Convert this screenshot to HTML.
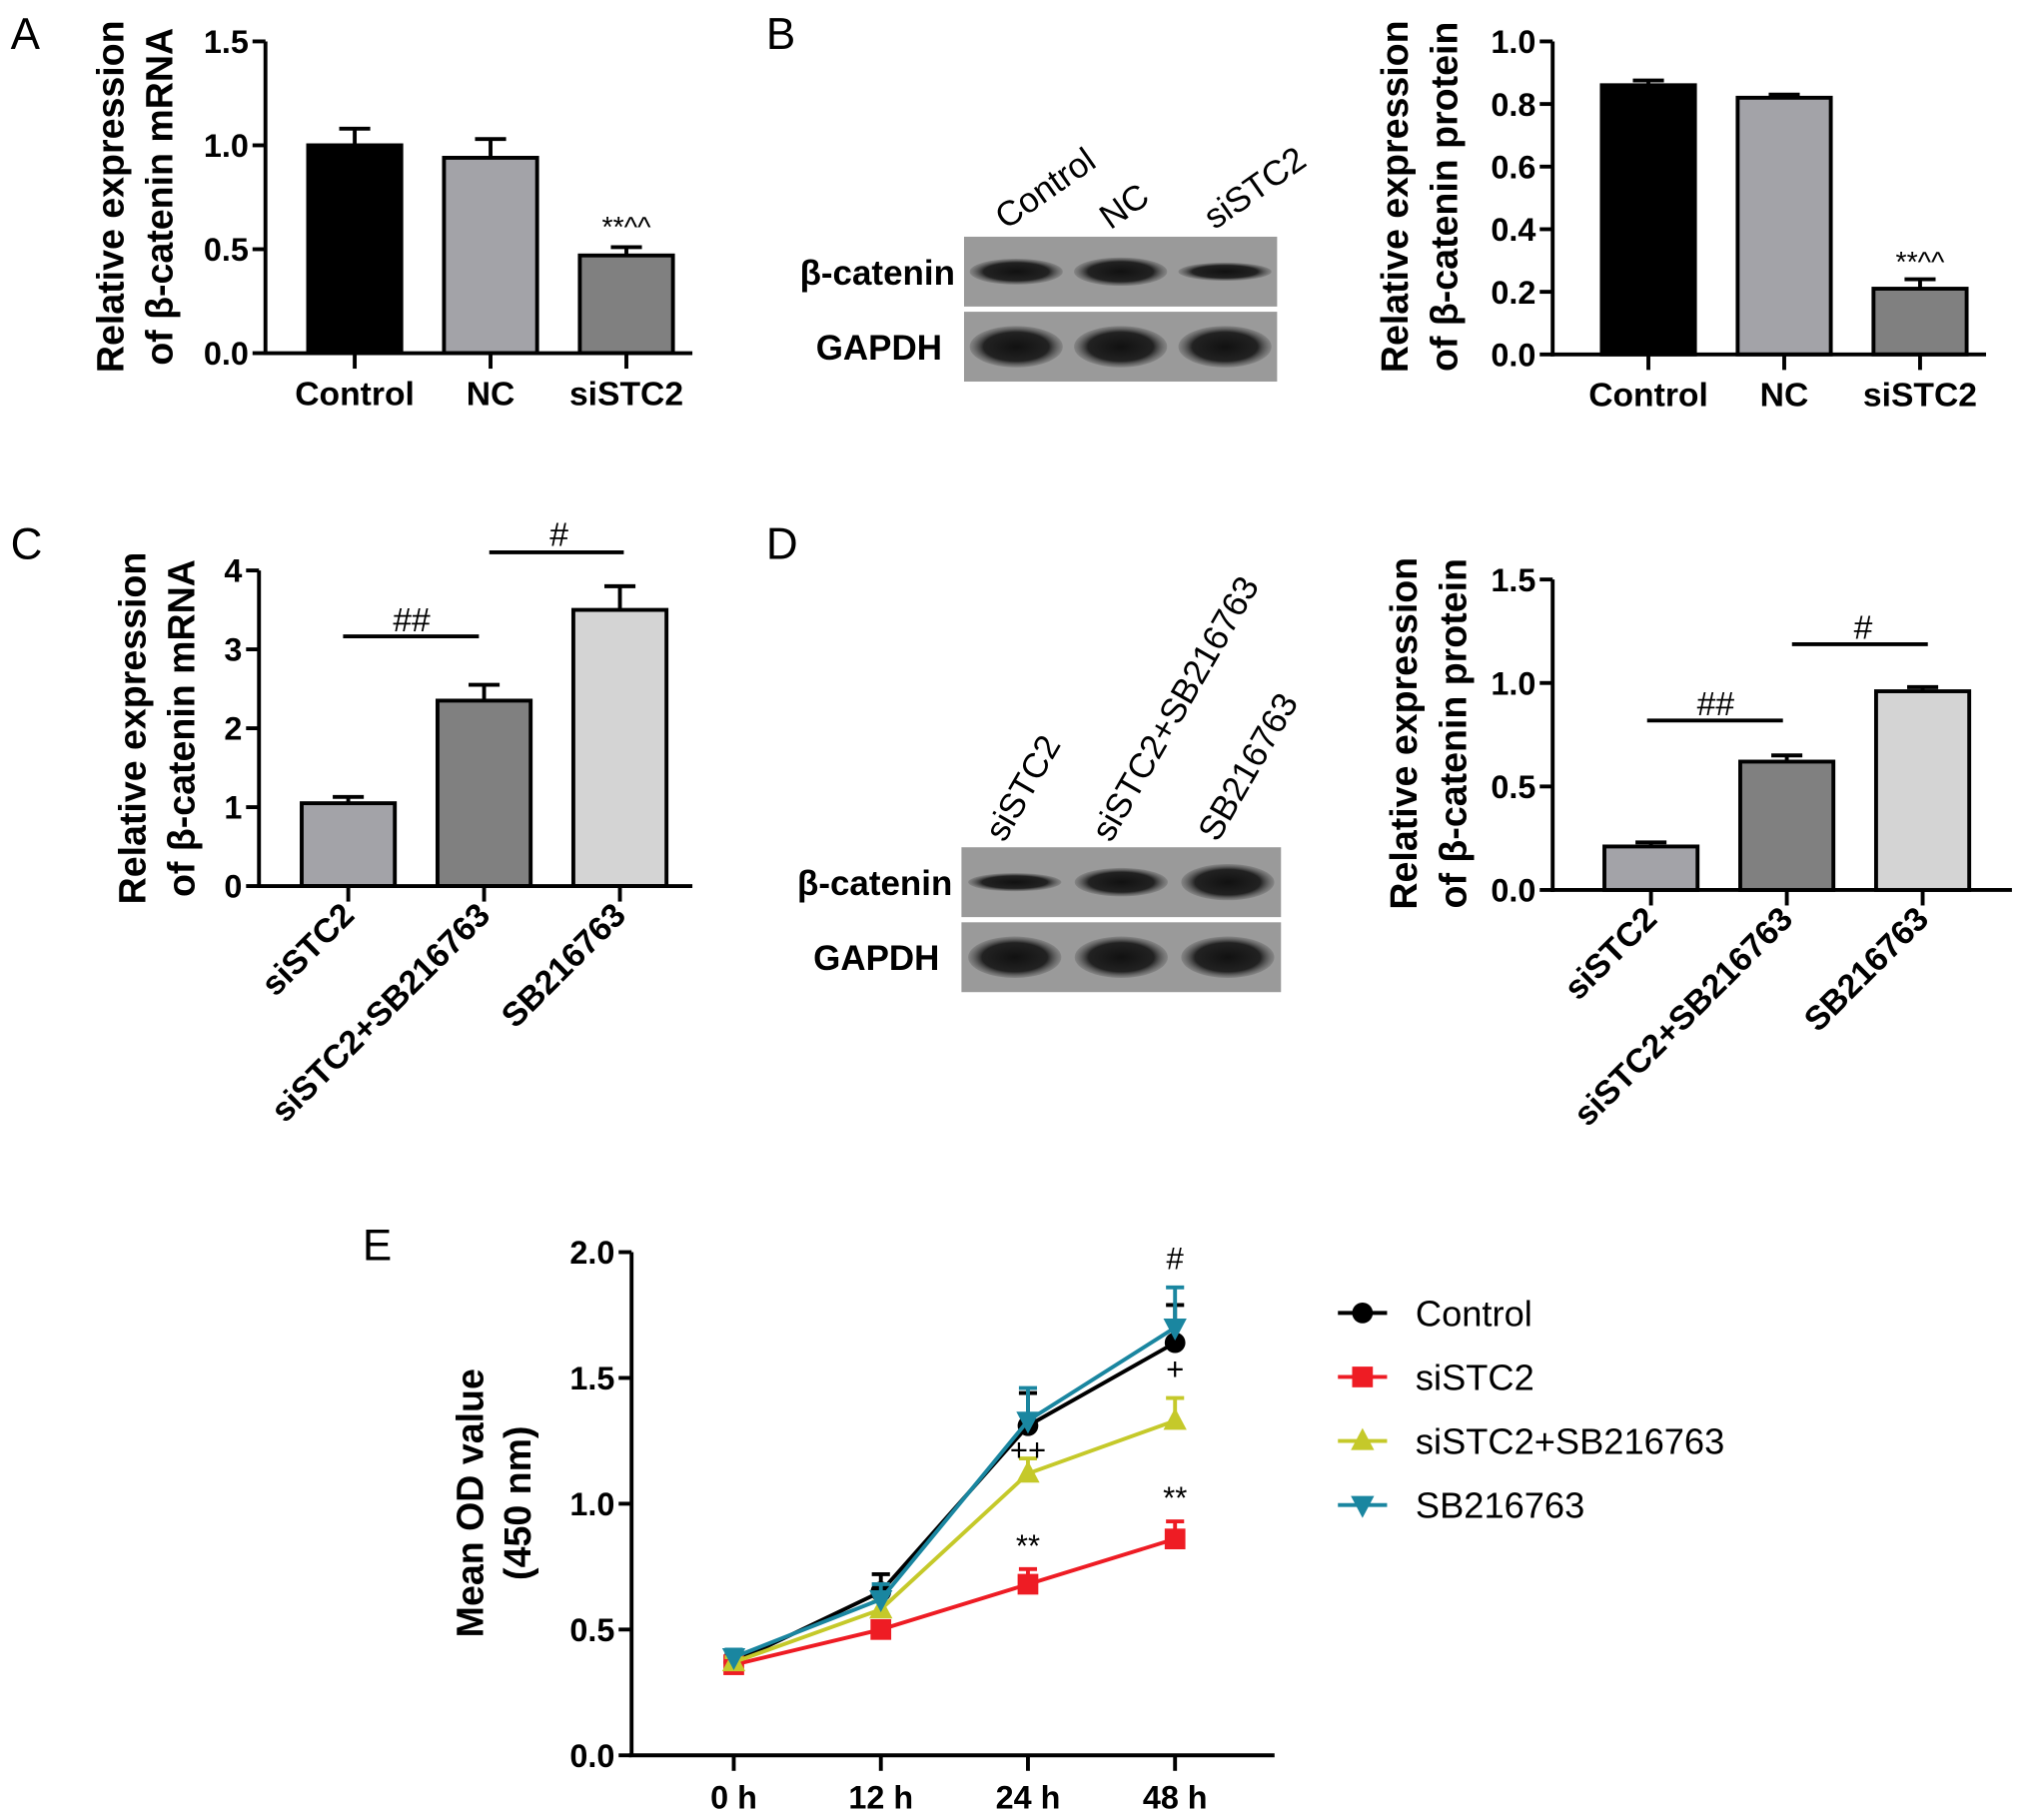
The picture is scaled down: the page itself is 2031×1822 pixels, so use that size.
<!DOCTYPE html>
<html><head><meta charset="utf-8"><style>
html,body{margin:0;padding:0;background:#fff}
svg{display:block;font-family:"Liberation Sans",Arial,sans-serif}
</style></head><body>
<svg id="fig" width="2031" height="1822" viewBox="0 0 1568 1407" xmlns="http://www.w3.org/2000/svg">
<defs>
<radialGradient id="band" cx="50%" cy="50%" r="50%"><stop offset="0" stop-color="#111"/><stop offset="0.7" stop-color="#222"/><stop offset="1" stop-color="#555" stop-opacity="0.3"/></radialGradient>
</defs>
<g font-size="34" fill="#000">
<text x="8" y="38">A</text>
<text x="592" y="38">B</text>
<text x="8" y="432">C</text>
<text x="592" y="432">D</text>
<text x="280" y="974">E</text>
</g>
<g id="root"></g>
</svg>
<script>
// ---- data ----
const catA = ["Control","NC","siSTC2"];
const valA = [1.0, 0.94, 0.47];
const errA = [0.08, 0.09, 0.04];
const catB = ["Control","NC","siSTC2"];
const valB = [0.86, 0.82, 0.21];
const errB = [0.015, 0.01, 0.03];
const catC = ["siSTC2","siSTC2+SB216763","SB216763"];
const valC = [1.05, 2.35, 3.5];
const errC = [0.08, 0.2, 0.3];
const catD = ["siSTC2","siSTC2+SB216763","SB216763"];
const valD = [0.21, 0.62, 0.96];
const errD = [0.02, 0.03, 0.02];
const timeE = ["0 h","12 h","24 h","48 h"];
const ctrlE = [0.37, 0.65, 1.31, 1.64];
const ctrlErr = [0.03, 0.07, 0.13, 0.15];
const siE = [0.36, 0.50, 0.68, 0.86];
const siErr = [0.02, 0.02, 0.06, 0.07];
const comboE = [0.37, 0.58, 1.12, 1.33];
const comboErr = [0.02, 0.03, 0.06, 0.09];
const sbE = [0.39, 0.62, 1.33, 1.70];
const sbErr = [0.03, 0.06, 0.13, 0.16];

const NS="http://www.w3.org/2000/svg";
const root=document.getElementById('root');
function el(tag,attrs,parent,text){const e=document.createElementNS(NS,tag);for(const k in attrs)e.setAttribute(k,attrs[k]);if(text!==undefined)e.textContent=text;(parent||root).appendChild(e);return e;}

function barChart(o){
  const g=el('g',{});
  
  
  const y=v=>o.y0-(v/o.ymax)*(o.y0-o.ytop);
  o.vals.forEach((v,i)=>{
    const cx=o.x0+o.first+i*o.step;
    const eb=el('line',{x1:cx,x2:cx,y1:y(v),y2:y(v+o.errs[i]),stroke:'#000','stroke-width':3},g);
    
    
    const cap=el('line',{x1:cx-12,x2:cx+12,y1:y(v+o.errs[i]),y2:y(v+o.errs[i]),stroke:'#000','stroke-width':3},g);
    
    
    const r=el('rect',{x:cx-36,y:y(v),width:72,height:o.y0-y(v),fill:o.colors[i],stroke:'#000','stroke-width':3},g);
    
    
    const t=el('line',{x1:cx,x2:cx,y1:o.y0,y2:o.y0+12,stroke:'#000','stroke-width':3},g);
    
    
    let lab;
    if(o.rot){
      lab=el('text',{x:cx+6,y:o.y0+24,'font-size':26,'font-weight':'bold','text-anchor':'end',transform:`rotate(-45 ${cx+6} ${o.y0+24})`},g,o.cats[i]);
    } else {
      lab=el('text',{x:cx,y:o.y0+40,'font-size':26,'font-weight':'bold','text-anchor':'middle'},g,o.cats[i]);
    }
    
    
  });
  const ax=el('line',{x1:o.x0,x2:o.x0,y1:o.ytop,y2:o.y0+1.5,stroke:'#000','stroke-width':3},g);
  
  
  const xa=el('line',{x1:o.x0-1.5,x2:o.x0+o.xlen,y1:o.y0,y2:o.y0,stroke:'#000','stroke-width':3},g);
  
  
  o.ticks.forEach(tv=>{
    const tk=el('line',{x1:o.x0-10,x2:o.x0,y1:y(tv),y2:y(tv),stroke:'#000','stroke-width':3},g);
    
    
    const tl=el('text',{x:o.x0-13,y:y(tv)+9,'font-size':25,'font-weight':'bold','text-anchor':'end'},g,tv.toFixed(o.dec));
    
    
  });
  const tt=el('text',{'font-size':29,'font-weight':'bold','text-anchor':'middle',transform:`translate(${o.x0-o.tOff} ${o.tY}) rotate(-90)`},g);
  
  
  el('tspan',{x:0,y:0},tt,o.title[0]);
  el('tspan',{x:0,y:38},tt,o.title[1]);
  return {g,y};
}

const A=barChart({name:'chart-a',cats:catA,vals:valA,errs:errA,colors:['#000','#a3a3a8','#808080'],x0:205,y0:273,ytop:32,ymax:1.5,ticks:[0,0.5,1.0,1.5],dec:1,first:69,step:105,xlen:330,title:['Relative expression','of β-catenin mRNA'],tOff:110,tY:152});
el('text',{x:484,y:A.y(valA[2]+errA[2])-8,'font-size':22,'text-anchor':'middle'},A.g,'**^^');
const B=barChart({name:'chart-b',cats:catB,vals:valB,errs:errB,colors:['#000','#a3a3a8','#808080'],x0:1200,y0:274,ytop:32,ymax:1.0,ticks:[0,0.2,0.4,0.6,0.8,1.0],dec:1,first:74,step:105,xlen:335,title:['Relative expression','of β-catenin protein'],tOff:112,tY:152});
el('text',{x:1484,y:B.y(valB[2]+errB[2])-6,'font-size':22,'text-anchor':'middle'},B.g,'**^^');
const C=barChart({name:'chart-c',cats:catC,vals:valC,errs:errC,colors:['#a3a3a8','#808080','#d4d4d4'],x0:200,y0:685,ytop:441,ymax:4,ticks:[0,1,2,3,4],dec:0,first:69,step:105,xlen:335,rot:true,title:['Relative expression','of β-catenin mRNA'],tOff:88,tY:563});
el('line',{x1:265,x2:370,y1:492,y2:492,stroke:'#000','stroke-width':3},C.g);
el('text',{x:318,y:488,'font-size':26,'text-anchor':'middle'},C.g,'##');
el('line',{x1:378,x2:482,y1:427,y2:427,stroke:'#000','stroke-width':3},C.g);
el('text',{x:432,y:422,'font-size':26,'text-anchor':'middle'},C.g,'#');
const D=barChart({name:'chart-d',cats:catD,vals:valD,errs:errD,colors:['#a3a3a8','#808080','#d4d4d4'],x0:1200,y0:688,ytop:448,ymax:1.5,ticks:[0,0.5,1.0,1.5],dec:1,first:76,step:105,xlen:355,rot:true,title:['Relative expression','of β-catenin protein'],tOff:105,tY:567});
el('line',{x1:1273,x2:1378,y1:557,y2:557,stroke:'#000','stroke-width':3},D.g);
el('text',{x:1326,y:553,'font-size':26,'text-anchor':'middle'},D.g,'##');
el('line',{x1:1385,x2:1490,y1:498,y2:498,stroke:'#000','stroke-width':3},D.g);
el('text',{x:1440,y:494,'font-size':26,'text-anchor':'middle'},D.g,'#');

// ---- blots ----
function blot(name,x,y1,y2,w,h,cols,bandW,rot,labY,intens){
  const g=el('g',{});
  
  
  [y1,y2].forEach((yy,ri)=>{
    const r=el('rect',{x:x,y:yy,width:w,height:h,fill:'#9a9a9a'},g);
    
    
    cols.forEach((c,i)=>{
      const cx=x+w*(i+0.5)/3;
      const bh=ri?16:intens[i];
      el('ellipse',{cx:cx,cy:yy+h/2,rx:bandW,ry:bh,fill:'url(#band)'},g);
    });
  });
  const l1=el('text',{x:x-7,y:y1+h/2+10,'font-size':27,'font-weight':'bold','text-anchor':'end'},g,'β-catenin');
  
  
  const l2=el('text',{x:x-17,y:y2+h/2+10,'font-size':27,'font-weight':'bold','text-anchor':'end'},g,'GAPDH');
  
  
  cols.forEach((c,i)=>{
    const cx=x+w*(i+0.5)/3-8;
    const t=el('text',{x:cx,y:labY,'font-size':27,transform:`rotate(${rot} ${cx} ${labY})`},g,c);
    
    
  });
}
blot('western-blot-b',745,183,241,242,54,catB,36,-35,178,[10,11,7]);
blot('western-blot-d',743,655,713,247,54,catD,36,-60,652,[7,11,14]);

// ---- line chart E ----
const gE=el('g',{});


const ex=i=>567+i*113.7;
const ey=v=>1357-(v/2.0)*(1357-968);
const series=[
 {name:'Control',vals:ctrlE,errs:ctrlErr,color:'#000',shape:'circle'},
 {name:'siSTC2',vals:siE,errs:siErr,color:'#ee1c24',shape:'square'},
 {name:'siSTC2+SB216763',vals:comboE,errs:comboErr,color:'#c5c92a',shape:'tri'},
 {name:'SB216763',vals:sbE,errs:sbErr,color:'#1a86a0',shape:'tridown'}
];
function marker(shape,cx,cy,color,g){
  let m;
  if(shape==='circle') m=el('circle',{cx:cx,cy:cy,r:8,fill:color},g);
  else if(shape==='square') m=el('rect',{x:cx-8,y:cy-8,width:16,height:16,fill:color},g);
  else if(shape==='tri') m=el('polygon',{points:`${cx},${cy-10} ${cx-9},${cy+7} ${cx+9},${cy+7}`,fill:color},g);
  else m=el('polygon',{points:`${cx},${cy+10} ${cx-9},${cy-7} ${cx+9},${cy-7}`,fill:color},g);
  return m;
}
const yaE=el('line',{x1:488,x2:488,y1:968,y2:1358,stroke:'#000','stroke-width':3},gE);


const xaE=el('line',{x1:486,x2:985,y1:1357,y2:1357,stroke:'#000','stroke-width':3},gE);


[0,0.5,1.0,1.5,2.0].forEach(tv=>{
  const tk=el('line',{x1:478,x2:488,y1:ey(tv),y2:ey(tv),stroke:'#000','stroke-width':3},gE);
  
  
  const tl=el('text',{x:475,y:ey(tv)+9,'font-size':25,'font-weight':'bold','text-anchor':'end'},gE,tv.toFixed(1));
  
  
});
timeE.forEach((t,i)=>{
  const tk=el('line',{x1:ex(i),x2:ex(i),y1:1357,y2:1369,stroke:'#000','stroke-width':3},gE);
  
  
  const tl=el('text',{x:ex(i),y:1398,'font-size':25,'font-weight':'bold','text-anchor':'middle'},gE,t);
  
  
});
const tE=el('text',{'font-size':29,'font-weight':'bold','text-anchor':'middle',transform:'translate(373 1162) rotate(-90)'},gE);


el('tspan',{x:0,y:0},tE,'Mean OD value');
el('tspan',{x:0,y:37},tE,'(450 nm)');
series.forEach((s,si)=>{
  const sg=el('g',{},gE);
  
  
  s.vals.forEach((v,i)=>{
    const top=ey(v+s.errs[i]);
    el('line',{x1:ex(i),x2:ex(i),y1:ey(v),y2:top,stroke:s.color,'stroke-width':3},sg);
    el('line',{x1:ex(i)-7,x2:ex(i)+7,y1:top,y2:top,stroke:s.color,'stroke-width':3},sg);
  });
  const pl=el('polyline',{points:s.vals.map((v,i)=>ex(i)+','+ey(v)).join(' '),fill:'none',stroke:s.color,'stroke-width':3},sg);
  
  
  s.vals.forEach((v,i)=>{
    const m=marker(s.shape,ex(i),ey(v),s.color,sg);
    
    
  });
  const ly=1015+si*49.5;
  const lg=el('g',{},gE);
  
  
  el('line',{x1:1034,x2:1072,y1:ly,y2:ly,stroke:s.color,'stroke-width':3},lg);
  marker(s.shape,1053,ly,s.color,lg);
  el('text',{x:1094,y:ly+10,'font-size':28},lg,s.name);
});
const ann=[['#',3,sbE[3]+sbErr[3],14,'#000'],['+',3,comboE[3]+comboErr[3],14,'#000'],['++',2,comboE[2]+0.03,4,'#000'],['**',2,siE[2]+siErr[2],10,'#000'],['**',3,siE[3]+siErr[3],10,'#000']];
ann.forEach(a=>{
  const t=el('text',{x:ex(a[1]),y:ey(a[2])-a[3],'font-size':24,'text-anchor':'middle'},gE,a[0]);
  
  
});
</script>
</body></html>
